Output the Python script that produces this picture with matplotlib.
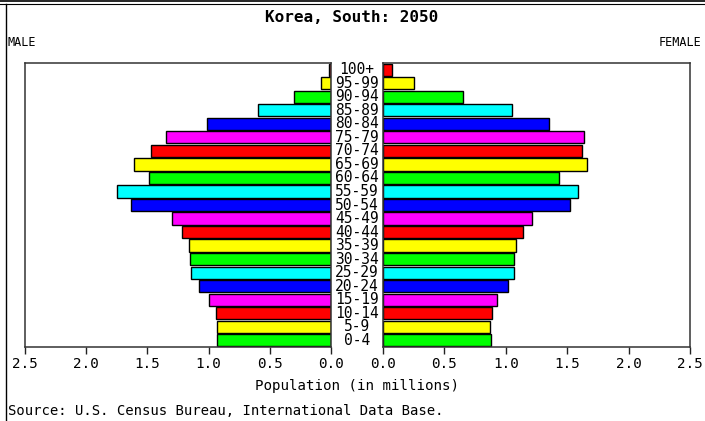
import numpy as np
import matplotlib
matplotlib.use("Agg")
import matplotlib.pyplot as plt
from matplotlib.lines import Line2D
from matplotlib.transforms import blended_transform_factory

# age groups, youngest first
ages = ["0-4", "5-9", "10-14", "15-19", "20-24", "25-29", "30-34", "35-39",
        "40-44", "45-49", "50-54", "55-59", "60-64", "65-69", "70-74",
        "75-79", "80-84", "85-89", "90-94", "95-99", "100+"]

# population in millions
male = [0.93, 0.93, 0.94, 1.00, 1.08, 1.14, 1.15, 1.16, 1.22, 1.30, 1.63,
        1.75, 1.49, 1.61, 1.47, 1.35, 1.01, 0.60, 0.30, 0.08, 0.02]
female = [0.88, 0.87, 0.89, 0.93, 1.02, 1.07, 1.07, 1.08, 1.14, 1.21, 1.52,
          1.59, 1.43, 1.66, 1.62, 1.64, 1.35, 1.05, 0.65, 0.25, 0.07]

palette = ["#00ff00", "#ffff00", "#ff0000", "#ff00ff", "#0000ff", "#00ffff"]
ticks = [0.0, 0.5, 1.0, 1.5, 2.0, 2.5]

plt.rcParams['font.family'] = ['DejaVu Sans Mono']

W, H = 705, 421
fig = plt.figure(figsize=(W / 100, H / 100), dpi=100)
fig.patch.set_facecolor("white")

ax_l = fig.add_axes([25 / W, 1 - 347 / H, 306 / W, 284 / H])
ax_r = fig.add_axes([383 / W, 1 - 347 / H, 307 / W, 284 / H])

y = np.arange(len(ages))
colors = [palette[i % len(palette)] for i in range(len(ages))]

ax_l.barh(y, male, height=0.9, color=colors, edgecolor="black", linewidth=1.0)
ax_r.barh(y, female, height=0.9, color=colors, edgecolor="black", linewidth=1.0)

ax_l.set_xlim(2.5, 0)
ax_r.set_xlim(0, 2.5)
for ax in (ax_l, ax_r):
    ax.set_ylim(-0.5, len(ages) - 0.5)
    ax.set_yticks([])
    ax.set_xticks(ticks)
    ax.set_xticklabels(["%.1f" % t for t in ticks], fontsize=10.3)
    ax.tick_params(axis="x", direction="out", length=5, width=1.0, pad=2,
                   colors="#222222", labelcolor="black")
    for s in ax.spines.values():
        s.set_linewidth(1.1)
        s.set_color("#333333")

# age labels in the gap between panels
tr = blended_transform_factory(fig.transFigure, ax_l.transData)
for i, a in enumerate(ages):
    ax_l.text(357 / W, i, a, transform=tr, ha="center", va="center",
              fontsize=10.5, clip_on=False)

fig.text(352 / W, 1 - 18 / H, "Korea, South: 2050", ha="center", va="center",
         fontsize=11.5, fontweight="bold")
fig.text(8 / W, 1 - 42 / H, "MALE", ha="left", va="center", fontsize=8.5)
fig.text(701 / W, 1 - 42 / H, "FEMALE", ha="right", va="center", fontsize=8.5)
fig.text(357 / W, 1 - 386 / H, "Population (in millions)", ha="center",
         va="center", fontsize=10.2)
fig.text(8 / W, 1 - 411 / H, "Source: U.S. Census Bureau, International Data Base.",
         ha="left", va="center", fontsize=10)

# outer frame lines
fig.add_artist(Line2D([0, 1], [1 - 1 / H, 1 - 1 / H], transform=fig.transFigure,
                      color="black", linewidth=1.2))
fig.add_artist(Line2D([0, 1], [1 - 3.5 / H, 1 - 3.5 / H], transform=fig.transFigure,
                      color="black", linewidth=0.8))
fig.add_artist(Line2D([6 / W, 6 / W], [0, 1 - 3.5 / H], transform=fig.transFigure,
                      color="black", linewidth=1.0))

fig.savefig("out.png", dpi=100)
